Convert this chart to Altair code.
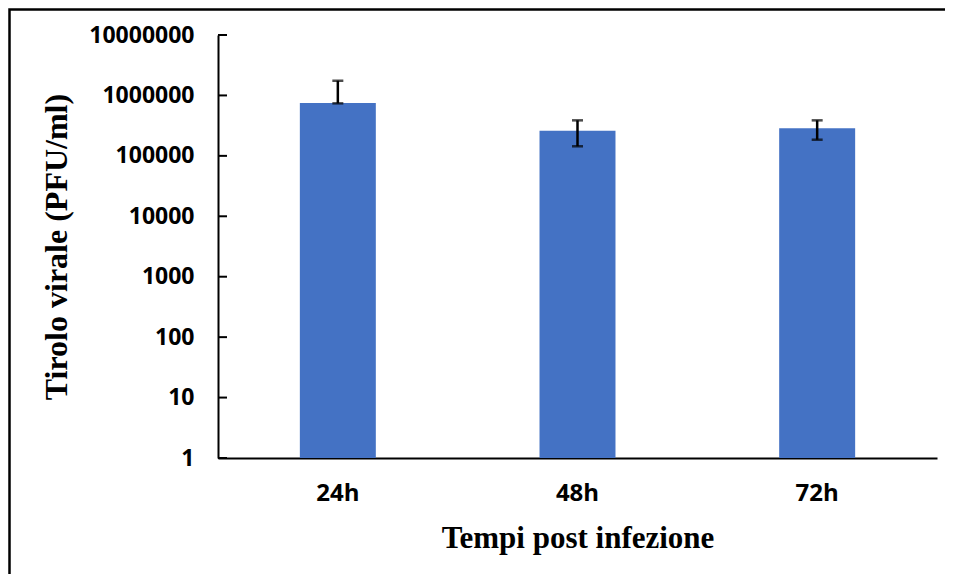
import altair as alt
import pandas as pd

categories = ["24h", "48h", "72h"]
means = [750000, 261000, 286000]
err_low = [740000, 144000, 185000]
err_high = [1750000, 387000, 387000]
y_ticks = [1, 10, 100, 1000, 10000, 100000, 1000000, 10000000]

df = pd.DataFrame({"cat": categories, "val": means, "lo": err_low, "hi": err_high,
                   "base": [y_ticks[0]] * len(categories)})
ticks_df = pd.DataFrame({"v": y_ticks})

W, H = 719, 423
yscale = alt.Scale(type="log", domain=[1, 10000000], nice=False)
xscale = alt.Scale(paddingInner=0.683, paddingOuter=0.3415)

x_axis = alt.Axis(
    title="Tempi post infezione",
    labelAngle=0,
    labelFont="Open Sans", labelFontWeight="bold", labelFontSize=24, labelColor="black",
    labelBaseline="alphabetic", labelPadding=42,
    ticks=False, domainColor="black", domainWidth=2,
    titleFont="Liberation Serif", titleFontWeight="bold", titleFontSize=31, titleColor="black",
    titleBaseline="alphabetic", titleY=89, titleX=W / 2, titleAlign="center",
)
y_axis = alt.Axis(
    title="Tirolo virale (PFU/ml)",
    values=y_ticks, format="d", grid=False,
    labelFont="Open Sans", labelFontWeight="bold", labelFontSize=23, labelColor="black",
    labelPadding=24, ticks=False, tickSize=0,
    domainColor="black", domainWidth=2,
    titleFont="Liberation Serif", titleFontWeight="bold", titleFontSize=32, titleColor="black",
    titleAngle=270, titleBaseline="alphabetic", titleX=-152, titleY=H / 2, titleAlign="center",
)

xenc = alt.X("cat:N", scale=xscale, axis=x_axis, sort=categories)

bars = alt.Chart(df).mark_bar(color="#4472C4").encode(
    x=xenc,
    y=alt.Y("val:Q", scale=yscale, axis=y_axis),
    y2="base:Q",
)
rule = alt.Chart(df).mark_rule(color="black", strokeWidth=2.5).encode(
    x=xenc,
    y=alt.Y("lo:Q", scale=yscale, axis=y_axis),
    y2="hi:Q",
)
cap_hi = alt.Chart(df).mark_tick(color="black", size=11, thickness=2.5).encode(
    x=xenc, y=alt.Y("hi:Q", scale=yscale, axis=y_axis)
)
cap_lo = alt.Chart(df).mark_tick(color="black", size=11, thickness=2.5).encode(
    x=xenc, y=alt.Y("lo:Q", scale=yscale, axis=y_axis)
)
yt = alt.Chart(ticks_df).mark_rule(color="black", strokeWidth=2).encode(
    y=alt.Y("v:Q", scale=yscale, axis=y_axis), x=alt.value(0), x2=alt.value(9)
)
frame = alt.Chart(alt.Data(values=[{"a": 1}])).mark_rect(
    filled=False, stroke="black", strokeWidth=2.5
).encode(
    x=alt.value(-208.5), x2=alt.value(780), y=alt.value(-25.5), y2=alt.value(700)
)

chart = alt.layer(bars, rule, cap_hi, cap_lo, yt, frame).properties(
    width=W, height=H,
    autosize=alt.AutoSizeParams(type="none"),
    padding={"left": 210, "top": 27, "right": 8, "bottom": 116},
    background="white",
).configure_view(stroke=None)

chart.save("out.html", embed_options={"renderer": "svg", "actions": False})
